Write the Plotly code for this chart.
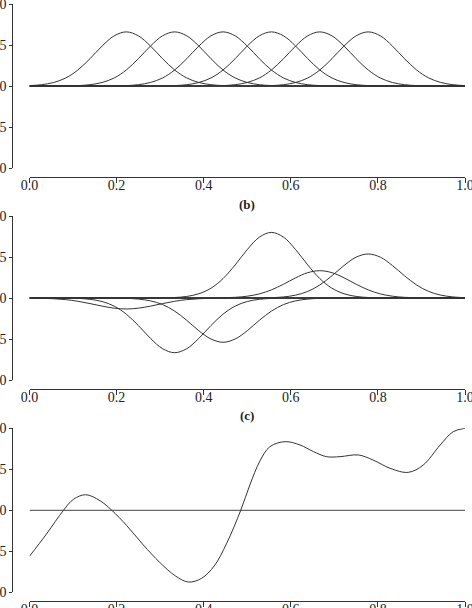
import numpy as np
import plotly.graph_objects as go

# common sampling grid in x (0 .. 1, 37 samples)
X_GRID = np.linspace(0.0, 1.0, 37)

# ---- panel (a): six basis bumps ----
A1 = [0.005, 0.016, 0.043, 0.098, 0.195, 0.333, 0.487, 0.612, 0.66, 0.612, 0.487, 0.333, 0.195, 0.098, 0.043, 0.016, 0.005] + [0] * 20
A2 = [0] * 4 + [0.005, 0.016, 0.043, 0.098, 0.195, 0.333, 0.487, 0.612, 0.66, 0.612, 0.487, 0.333, 0.195, 0.098, 0.043, 0.016, 0.005] + [0] * 16
A3 = [0] * 8 + [0.005, 0.016, 0.043, 0.098, 0.195, 0.333, 0.487, 0.612, 0.66, 0.612, 0.487, 0.333, 0.195, 0.098, 0.043, 0.016, 0.005] + [0] * 12
A4 = [0] * 12 + [0.005, 0.016, 0.043, 0.098, 0.195, 0.333, 0.487, 0.612, 0.66, 0.612, 0.487, 0.333, 0.195, 0.098, 0.043, 0.016, 0.005] + [0] * 8
A5 = [0] * 16 + [0.005, 0.016, 0.043, 0.098, 0.195, 0.333, 0.487, 0.612, 0.66, 0.612, 0.487, 0.333, 0.195, 0.098, 0.043, 0.016, 0.005] + [0] * 4
A6 = [0] * 20 + [0.005, 0.016, 0.043, 0.098, 0.195, 0.333, 0.487, 0.612, 0.66, 0.612, 0.487, 0.333, 0.195, 0.098, 0.043, 0.016, 0.005]

# ---- panel (b): weighted bumps ----
B1 = [-0.001, -0.003, -0.009, -0.020, -0.040, -0.068, -0.099, -0.124, -0.134, -0.124, -0.099, -0.068, -0.040, -0.020, -0.009, -0.003, -0.001] + [0] * 20
B2 = [0] * 4 + [-0.005, -0.016, -0.043, -0.099, -0.197, -0.336, -0.492, -0.618, -0.667, -0.618, -0.492, -0.336, -0.197, -0.099, -0.043, -0.016, -0.005] + [0] * 16
B3 = [0] * 8 + [-0.004, -0.013, -0.035, -0.080, -0.160, -0.272, -0.399, -0.500, -0.540, -0.500, -0.399, -0.272, -0.160, -0.080, -0.035, -0.013, -0.004] + [0] * 12
B4 = [0] * 12 + [0.006, 0.019, 0.052, 0.119, 0.237, 0.403, 0.590, 0.742, 0.800, 0.742, 0.590, 0.403, 0.237, 0.119, 0.052, 0.019, 0.006] + [0] * 8
B5 = [0] * 16 + [0.003, 0.008, 0.022, 0.050, 0.099, 0.168, 0.246, 0.309, 0.333, 0.309, 0.246, 0.168, 0.099, 0.050, 0.022, 0.008, 0.003] + [0] * 4
B6 = [0] * 20 + [0.004, 0.013, 0.035, 0.080, 0.159, 0.271, 0.396, 0.498, 0.537, 0.498, 0.396, 0.271, 0.159, 0.080, 0.035, 0.013, 0.004]

# ---- panel (c): resulting function ----
C_X = [0.0, 0.039, 0.078, 0.101, 0.129, 0.162, 0.189, 0.223, 0.261, 0.300, 0.335, 0.365, 0.395, 0.424, 0.453, 0.485,
       0.506, 0.529, 0.552, 0.587, 0.621, 0.652, 0.682, 0.713, 0.755, 0.789, 0.828, 0.870, 0.904, 0.943, 0.973, 1.0]
C_Y = [-0.560, -0.289, 0.0, 0.134, 0.19, 0.117, 0.0, -0.185, -0.42, -0.64, -0.80, -0.875, -0.83, -0.68, -0.40, 0.0,
       0.309, 0.60, 0.776, 0.837, 0.797, 0.716, 0.654, 0.654, 0.675, 0.613, 0.512, 0.463, 0.552, 0.796, 0.959, 1.0]

ZERO_X = [0.0, 1.0]
ZERO_Y = [0.0, 0.0]

X_TICKS = [0.0, 0.2, 0.4, 0.6, 0.8, 1.0]
X_LABELS = ["0.0", "0.2", "0.4", "0.6", "0.8", "1.0"]
Y_TICKS = [-1.0, -0.5, 0.0, 0.5, 1.0]
Y_LABELS = ["-1.0", "-0.5", "0.0", "0.5", "1.0"]
TITLES = ["(b)", "(c)"]

W, H = 472, 608
FONT = "Liberation Serif, Times New Roman, Times, serif"
CURVE = dict(color="#333333", width=1, shape="spline", smoothing=1)
BASE = dict(color="#222222", width=1.6)

fig = go.Figure()

panels = [[A1, A2, A3, A4, A5, A6], [B1, B2, B3, B4, B5, B6]]
for i, curves in enumerate(panels):
    xa = "x" if i == 0 else f"x{i+1}"
    ya = "y" if i == 0 else f"y{i+1}"
    fig.add_trace(go.Scatter(x=ZERO_X, y=ZERO_Y, mode="lines", line=BASE, xaxis=xa, yaxis=ya, showlegend=False))
    for c in curves:
        fig.add_trace(go.Scatter(x=X_GRID, y=c, mode="lines", line=CURVE, xaxis=xa, yaxis=ya, showlegend=False))

fig.add_trace(go.Scatter(x=ZERO_X, y=ZERO_Y, mode="lines", line=dict(color="#444444", width=1), xaxis="x3", yaxis="y3", showlegend=False))
fig.add_trace(go.Scatter(x=C_X, y=C_Y, mode="lines", line=CURVE, xaxis="x3", yaxis="y3", showlegend=False))

# pixel geometry of the three panels (top of y=1, bottom of y=-1, x-axis line)
ytops = [4, 216, 428.3]
ybots = [168, 380, 592.3]
xlines = [176.7, 389, 601]
xdom = [29.5 / W, 465 / W]

layout = dict(
    width=W, height=H, margin=dict(l=0, r=0, t=0, b=0, pad=0, autoexpand=False),
    paper_bgcolor="white", plot_bgcolor="white",
    font=dict(family=FONT, size=14, color="#222222"),
    showlegend=False,
)
for i in range(3):
    sx = "xaxis" if i == 0 else f"xaxis{i+1}"
    sy = "yaxis" if i == 0 else f"yaxis{i+1}"
    layout[sx] = dict(
        domain=xdom, range=[0, 1], anchor="free", position=1 - xlines[i] / H, automargin=False,
        showline=True, linecolor="#333333", linewidth=1, showgrid=False, zeroline=False,
        ticks="outside", ticklen=5, tickcolor="#333333", tickwidth=1,
        tickvals=X_TICKS, ticktext=X_LABELS, ticklabelstandoff=-10, ticklabeloverflow="allow",
        tickfont=dict(family=FONT, size=14, color="#222222"),
    )
    layout[sy] = dict(
        domain=[1 - ybots[i] / H, 1 - ytops[i] / H], range=[-1, 1], anchor="free", position=12.3 / W,
        automargin=False,
        showline=True, linecolor="#333333", linewidth=1, showgrid=False, zeroline=False,
        ticks="outside", ticklen=3, tickcolor="#333333", tickwidth=1,
        tickvals=Y_TICKS, ticktext=Y_LABELS, ticklabeloverflow="allow",
        tickfont=dict(family=FONT, size=14, color="#222222"),
    )
fig.update_layout(**layout)

title_y = [204, 415]
for t, py in zip(TITLES, title_y):
    fig.add_annotation(
        text=f"<b>{t}</b>", x=(xdom[0] + xdom[1]) / 2, y=1 - py / H, xref="paper", yref="paper",
        xanchor="center", yanchor="middle", showarrow=False,
        font=dict(family=FONT, size=13, color="#222222"),
    )

fig.write_html("out.html", config={"displayModeBar": False})
